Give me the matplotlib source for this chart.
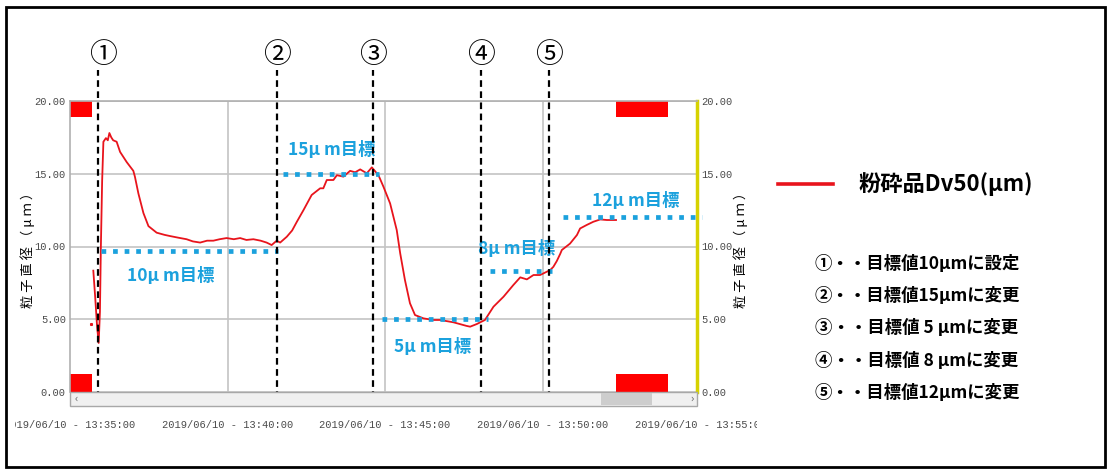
import matplotlib.pyplot as plt
from matplotlib.patches import Rectangle
from matplotlib.transforms import Bbox

plt.rcParams['font.family'] = ['Noto Sans CJK JP', 'DejaVu Sans']

W, H = 1120, 472

# Dv50 record, minutes after 2019/06/10 13:35:00
t_min = [0.74, 0.80, 0.86, 0.91, 0.95, 0.98, 1.02, 1.06, 1.14, 1.20, 1.25, 1.31, 1.37, 1.48,
         1.59, 1.80, 2.01, 2.06, 2.17, 2.33, 2.49, 2.75, 3.00, 3.17, 3.45, 3.70, 3.90, 4.13,
         4.35, 4.55, 4.75, 4.97, 5.20, 5.40, 5.60, 5.82, 6.05, 6.24, 6.40, 6.56, 6.67, 6.88,
         7.05, 7.20, 7.41, 7.67, 7.94, 8.04, 8.15, 8.36, 8.47, 8.68, 8.89, 9.05, 9.21, 9.42,
         9.58, 9.79, 9.95, 10.16, 10.37, 10.48, 10.63, 10.79, 10.95, 11.22, 11.53, 11.75,
         12.17, 12.59, 12.70, 12.91, 13.17, 13.44, 13.76, 14.07, 14.29, 14.50, 14.71, 14.92,
         15.24, 15.34, 15.45, 15.56, 15.61, 15.87, 16.09, 16.19, 16.40, 16.61, 16.83, 17.04, 17.33]
dv50 = [8.34, 6.5, 4.5, 3.37, 5.5, 10.0, 14.5, 17.2, 17.45, 17.3, 17.8, 17.5, 17.3, 17.2,
        16.5, 15.8, 15.2, 14.8, 13.65, 12.3, 11.4, 10.95, 10.8, 10.72, 10.6, 10.5, 10.35, 10.27,
        10.4, 10.4, 10.5, 10.58, 10.5, 10.58, 10.45, 10.5, 10.4, 10.27, 10.1, 10.4, 10.27, 10.67,
        11.1, 11.7, 12.5, 13.54, 14.0, 14.0, 14.57, 14.57, 14.9, 14.8, 15.2, 15.1, 15.3, 15.03,
        15.44, 14.9, 14.1, 12.96, 11.13, 9.53, 7.7, 6.1, 5.29, 5.06, 4.95, 4.95,
        4.79, 4.54, 4.49, 4.67, 4.95, 5.86, 6.55, 7.35, 7.88, 7.74, 8.04, 8.04,
        8.38, 8.6, 9.0, 9.5, 9.76, 10.2, 10.79, 11.24, 11.48, 11.7, 11.86, 11.82, 11.82]
stray_t = [0.67]
stray_v = [4.67]

events = ['①', '②', '③', '④', '⑤']
event_t = [0.89, 6.57, 9.62, 13.05, 15.21]

target_labels = ['10μ m目標', '15μ m目標', '5μ m目標', '8μ m目標', '12μ m目標']
target_val = [9.7, 15.0, 5.0, 8.3, 12.0]
target_start = [0.98, 6.76, 9.9, 13.33, 15.65]
target_end = [6.6, 9.8, 13.27, 15.3, 20.06]
label_t = [3.21, 8.32, 11.52, 14.16, 17.97]
label_v = [7.97, 16.63, 3.09, 9.83, 13.13]

notes = ['①・・目標値10μmに設定', '②・・目標値15μmに変更', '③・・目標値 5 μmに変更',
         '④・・目標値 8 μmに変更', '⑤・・目標値12μmに変更']

yticks = [0, 5, 10, 15, 20]
xtick_min = [0, 5, 10, 15, 20]
xtick_labels = ['2019/06/10 - 13:35:00', '2019/06/10 - 13:40:00', '2019/06/10 - 13:45:00',
                '2019/06/10 - 13:50:00', '2019/06/10 - 13:55:00']
mark_spans = [(0.0, 0.7), (17.33, 18.98)]

RED = '#e8141c'
BLUE = '#1ba1dd'
GRAY = '#4a4a4a'
MONO = 'Liberation Mono'


def fx(x):
    return x / W


def fy(y):
    return 1 - y / H


fig = plt.figure(figsize=(W / 100, H / 100), dpi=100)
ax = fig.add_axes([fx(70), fy(392), fx(697) - fx(70), fy(101) - fy(392)])
ax.set_xlim(0, 19.9)
ax.set_ylim(0, 20)

ax.set_yticks(yticks)
ax.set_yticklabels(['%.2f' % v for v in yticks], fontfamily=MONO, fontsize=7.5, color=GRAY)
ax.tick_params(axis='y', length=0, pad=3, labelright=True)
ax.set_xticks(xtick_min[1:4])
ax.tick_params(axis='x', length=0, labelbottom=False)
ax.grid(color='#c4c4c4', lw=1.2)
ax.set_axisbelow(True)
for side in ['left', 'top']:
    ax.spines[side].set_color('#b0b0b0')
    ax.spines[side].set_linewidth(1.2)
ax.spines['bottom'].set_visible(False)
ax.spines['right'].set_color('#d6d200')
ax.spines['right'].set_linewidth(2.5)

# red range marks of the recorder
for a, b in mark_spans:
    ax.add_patch(Rectangle((a, 18.9), b - a, 1.1, color='#ff0000', lw=0))
    ax.add_patch(Rectangle((a, 0), b - a, 1.24, color='#ff0000', lw=0))

ax.plot(t_min, dv50, color=RED, lw=1.3, zorder=4)
ax.plot(stray_t, stray_v, 's', color=RED, ms=1.2, zorder=4)

for v, a, b in zip(target_val, target_start, target_end):
    ax.plot([a, b], [v, v], color=BLUE, lw=3.4, linestyle=(0, (1, 1.45)),
            clip_on=False, zorder=5)
for s, t, v in zip(target_labels, label_t, label_v):
    ax.text(t, v, s, color=BLUE, fontsize=12.5, fontweight='bold',
            ha='center', va='center', zorder=6)

xt = ax.get_xaxis_transform()
for i, (s, t) in enumerate(zip(events, event_t)):
    ax.plot([t, t], [-0.021, 1.107], color='black', lw=1.6, linestyle=(0, (3, 2)),
            transform=xt, clip_on=False, zorder=6)
    lt = t + 0.15 if i == 0 else t
    ax.text(lt, 1.158, s, transform=xt, fontsize=20, ha='center', va='center')

# scrollbar under the plot
fig.patches.append(Rectangle((fx(70), fy(406)), fx(697) - fx(70), fy(392) - fy(406),
                             transform=fig.transFigure, facecolor='#f0f0f0',
                             edgecolor='#a8a8a8', lw=1))
fig.patches.append(Rectangle((fx(601), fy(405)), fx(652) - fx(601), fy(393) - fy(405),
                             transform=fig.transFigure, facecolor='#cdcdcd', lw=0))
fig.text(fx(76), fy(399), '‹', fontsize=8, color='#606060', ha='center', va='center')
fig.text(fx(692), fy(399), '›', fontsize=8, color='#606060', ha='center', va='center')

# time labels, cut by the screenshot frame
clip = Bbox([[15, 0], [757, H]])
for t, s in zip(xtick_min, xtick_labels):
    tx = ax.text(t, -0.113, s, transform=xt, fontfamily=MONO, fontsize=7.5,
                 color=GRAY, ha='center', va='center')
    tx.set_clip_box(clip)
    tx.set_clip_on(True)

ylab = '粒 子 直 径 （ μ ｍ ）'
fig.text(fx(28), fy(247), ylab, rotation=90, fontsize=9.5, ha='center', va='center')
fig.text(fx(741), fy(247), ylab, rotation=90, fontsize=9.5, ha='center', va='center')

# legend and notes
fig.add_artist(plt.Line2D([fx(778), fx(833)], [fy(184), fy(184)], color=RED, lw=2.6))
fig.text(fx(858), fy(184), '粉砕品Dv50(μm)', fontsize=16, fontweight='bold',
         ha='left', va='center')
for i, s in enumerate(notes):
    fig.text(fx(815), fy(264 + i * 32.2), s, fontsize=12.5, fontweight='bold',
             ha='left', va='center')

fig.patches.append(Rectangle((fx(6), fy(467)), fx(1105) - fx(6), fy(7) - fy(467),
                             transform=fig.transFigure, fill=False,
                             edgecolor='black', lw=2))

fig.savefig('out.png', dpi=100)
